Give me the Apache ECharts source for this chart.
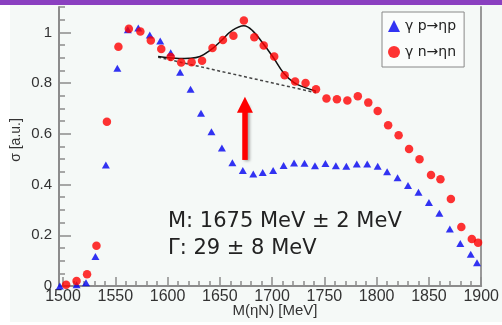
<!DOCTYPE html>
<html><head><meta charset="utf-8">
<script src="https://cdn.jsdelivr.net/npm/echarts@6/dist/echarts.min.js"></script>
<style>html,body{margin:0;padding:0;background:#fff}#c{width:502px;height:325px}</style>
</head><body><div id="c"></div>
<script>
// gamma n -> eta n (red circles)
const nMass = [1503,1513,1523,1532,1542,1553,1563,1574,1584,1594,1603,1613,1623,1633,1643,1653,1663,1673,1683,1692,1702,1712,1722,1732,1742,1752,1762,1772,1782,1792,1801,1811,1821,1831,1841,1852,1861,1871,1881,1891,1897];
const nSigma = [0.005,0.02,0.046,0.159,0.648,0.943,1.014,1.003,0.968,0.934,0.903,0.881,0.882,0.888,0.938,0.970,0.987,1.047,0.981,0.948,0.905,0.831,0.806,0.800,0.776,0.739,0.736,0.731,0.748,0.723,0.690,0.634,0.594,0.540,0.500,0.438,0.421,0.343,0.233,0.185,0.171];
// gamma p -> eta p (blue triangles)
const pMass = [1497,1513,1522,1531,1541,1552,1562,1572,1583,1593,1603,1612,1622,1632,1642,1652,1662,1672,1682,1691,1701,1711,1721,1731,1741,1751,1761,1771,1781,1791,1801,1810,1820,1830,1840,1850,1860,1870,1880,1890,1896];
const pSigma = [0.0,0.005,0.013,0.116,0.477,0.859,1.01,1.017,0.99,0.966,0.920,0.843,0.776,0.681,0.608,0.544,0.486,0.455,0.442,0.447,0.455,0.475,0.485,0.484,0.474,0.483,0.474,0.472,0.481,0.481,0.472,0.450,0.427,0.396,0.370,0.329,0.287,0.225,0.168,0.125,0.092];
// fit curve
const fitMass = [1591,1601,1611,1621,1631,1641,1651,1661,1673,1681,1691,1701,1711,1721,1731,1742];
const fitSigma = [0.905,0.900,0.897,0.898,0.905,0.930,0.966,1.005,1.026,1.008,0.958,0.902,0.840,0.802,0.783,0.768];
// background line
const bgMass = [1591,1742];
const bgSigma = [0.902,0.762];
// arrow
const arrowFrom = [1674,0.497];
const arrowTo = [1674,0.715];
const xTicks = [1500,1550,1600,1650,1700,1750,1800,1850,1900];
const yTicks = [0,0.2,0.4,0.6,0.8,1];
const yMinorTicks = [0.05,0.1,0.15,0.25,0.3,0.35,0.45,0.5,0.55,0.65,0.7,0.75,0.85,0.9,0.95,1.05,1.1];
const seriesNames = ['γ p→ηp','γ n→ηn'];
const resultLines = ['M: 1675 MeV ± 2 MeV', 'Γ: 29 ± 8 MeV'];

const zip = (a,b)=>a.map((v,i)=>[v,b[i]]);
const chart = echarts.init(document.getElementById('c'), null, {renderer:'canvas'});
const gray = '#8c8c8c';
const yMax = 1.1;
chart.setOption({
  backgroundColor:'#f5f9f7',
  animation:false,
  grid:{left:63,right:12,top:7,bottom:39,show:false},
  legend:{
    data:[{name:seriesNames[0]},{name:seriesNames[1]}],
    orient:'vertical', left:382, top:12,
    padding:[7,8,8,6], itemGap:12, itemWidth:12, itemHeight:12,
    backgroundColor:'#fafcfb', borderColor:'#888', borderWidth:1,
    textStyle:{fontFamily:'DejaVu Sans',fontSize:14,color:'#222',lineHeight:14}
  },
  xAxis:{type:'value',min:xTicks[0],max:xTicks[xTicks.length-1],interval:50,
    axisLine:{onZero:false,lineStyle:{color:gray,width:2}},
    axisTick:{inside:true,length:9,lineStyle:{color:gray,width:1.5}},
    minorTick:{show:true,splitNumber:5,length:5,lineStyle:{color:gray,width:1.5}},
    axisLabel:{fontFamily:'Liberation Sans',fontSize:16,color:'#333',margin:3,formatter:v=>String(v)},
    splitLine:{show:false}},
  yAxis:[{type:'value',min:0,max:yMax,offset:4,
    axisLine:{show:true,lineStyle:{color:gray,width:2}},
    axisTick:{inside:true,length:12,customValues:yTicks,lineStyle:{color:gray,width:1.5}},
    axisLabel:{fontFamily:'Liberation Sans',fontSize:15,color:'#333',margin:7,customValues:yTicks,formatter:v=>String(v)},
    splitLine:{show:false}},
   {type:'value',min:0,max:yMax,position:'right',
    axisLine:{show:true,lineStyle:{color:'#999',width:2}},
    axisTick:{show:false},axisLabel:{show:false},splitLine:{show:false}},
   {type:'value',min:0,max:yMax,position:'left',offset:4,
    axisLine:{show:false},
    axisTick:{inside:true,length:6,customValues:yMinorTicks,lineStyle:{color:gray,width:1.5}},
    axisLabel:{show:false},splitLine:{show:false}}],
  series:[
    {type:'line',data:zip(bgMass,bgSigma),symbol:'none',z:3,
     lineStyle:{color:'#444',width:1.5,type:[3,2.5]}},
    {type:'line',data:zip(fitMass,fitSigma),symbol:'none',smooth:0.4,z:3,
     lineStyle:{color:'#111',width:1.5}},
    {name:seriesNames[0],type:'scatter',data:zip(pMass,pSigma),symbol:'triangle',symbolSize:[8,7],clip:false,z:4,
     itemStyle:{color:'#0000f0'}},
    {name:seriesNames[1],type:'scatter',data:zip(nMass,nSigma),symbol:'circle',symbolSize:8.5,clip:false,z:5,
     itemStyle:{color:'#ff0000'}},
    {type:'line',data:[],z:6,
     markLine:{silent:true,symbol:['none','triangle'],symbolSize:16,label:{show:false},
       lineStyle:{color:'#ff0000',width:5.5,type:'solid',shadowBlur:3,shadowColor:'rgba(0,0,0,0.35)',shadowOffsetX:2,shadowOffsetY:1},
       data:[[{coord:arrowFrom},{coord:arrowTo}]]}}
  ],
  graphic:[
    {type:'rect',left:0,top:0,shape:{width:10,height:325},style:{fill:'#ffffff'},z:-1,silent:true},
    {type:'rect',left:0,top:322,shape:{width:502,height:3},style:{fill:'#ffffff'},z:-1,silent:true},
    {type:'rect',left:0,top:0,shape:{width:502,height:5},style:{fill:'#8a40c0'},z:100},
    {type:'text',left:168,top:211,z:50,style:{text:resultLines[0],font:'21px "DejaVu Sans"',fill:'#222'}},
    {type:'text',left:168,top:238,z:50,style:{text:resultLines[1],font:'21px "DejaVu Sans"',fill:'#222'}},
    {type:'text',x:275,y:311,z:50,style:{text:'M(ηN) [MeV]',font:'15px "Liberation Sans"',fill:'#333',align:'center',verticalAlign:'middle'}},
    {type:'text',x:16,y:140,rotation:Math.PI/2,z:50,style:{text:'σ [a.u.]',font:'14px "Liberation Sans"',fill:'#333',align:'center',verticalAlign:'middle'}}
  ]
});
</script></body></html>
